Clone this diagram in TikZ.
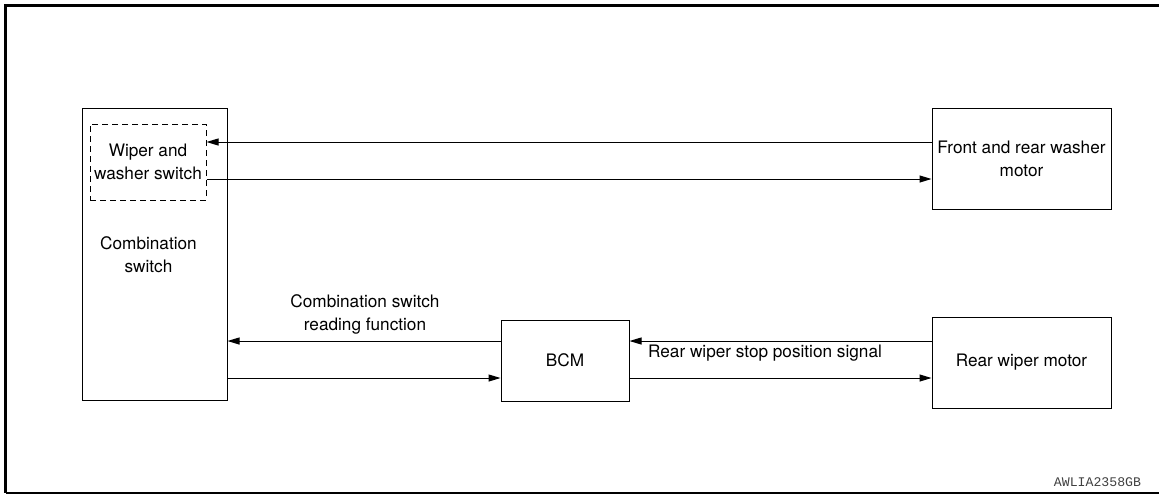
\documentclass[tikz,border=0pt]{standalone}
\usepackage{fontspec}
\setmainfont{TeX Gyre Heros}
\newfontfamily\codefont{Liberation Mono}
\usetikzlibrary{arrows.meta}

\tikzset{
  unit/.style={draw, line width=0.5pt, align=center, inner sep=0pt,
    font=\fontsize{8.6}{11.5}\selectfont},
  sig/.style={line width=0.5pt, -{Triangle[length=6pt,width=3.5pt]}},
  siglabel/.style={align=center, inner sep=0pt,
    font=\fontsize{8.6}{11.5}\selectfont},
}

\begin{document}
\begin{tikzpicture}[x=0.5pt,y=-0.5pt]
      \useasboundingbox (0,0) rectangle (1159,494);
      % frame
      \draw[line width=1.7pt] (1159,5.5) -- (5.5,5.5) -- (5.5,492.5);
      \draw[line width=1pt] (5.5,492.5) -- (1159,492.5);
      % units
      \node[unit, minimum width=72.5pt, minimum height=146pt] (cs) at (154.5,254) {};
      \node[siglabel] (cslabel) at (148.5,254.5) {Combination\\switch};
      \node[unit, dash pattern=on 3pt off 2pt, minimum width=58pt, minimum height=38pt] (wws) at (148,162) {Wiper and\\washer switch};
      \node[unit, minimum width=89.5pt, minimum height=50.5pt] (fwm) at (1021.5,158.5) {Front and rear washer\\motor};
      \node[unit, minimum width=64pt, minimum height=40.5pt] (bcm) at (565,360.5) {BCM};
      \node[unit, minimum width=89.5pt, minimum height=45.5pt] (rwm) at (1021.5,362.5) {Rear wiper motor};
      % signals
      \draw[sig] (fwm.west |- 0,142) -- (wws.east |- 0,142);
      \draw[sig] (wws.east |- 0,179) -- (fwm.west |- 0,179);
      \draw[sig] (bcm.west |- 0,341) -- (cs.east |- 0,341);
      \draw[sig] (cs.east |- 0,378) -- (bcm.west |- 0,378);
      \draw[sig] (rwm.west |- 0,341) -- (bcm.east |- 0,341);
      \draw[sig] (bcm.east |- 0,378) -- (rwm.west |- 0,378);
      \node[siglabel] (csread) at (365,314) {Combination switch\\reading function};
      \node[siglabel] (stop) at (765,353) {Rear wiper stop position signal};
      \node[inner sep=0pt, text=black!75, font=\codefont\fontsize{6.6}{8}\selectfont] (code) at (1097.5,482) {AWLIA2358GB};
\end{tikzpicture}
\end{document}
